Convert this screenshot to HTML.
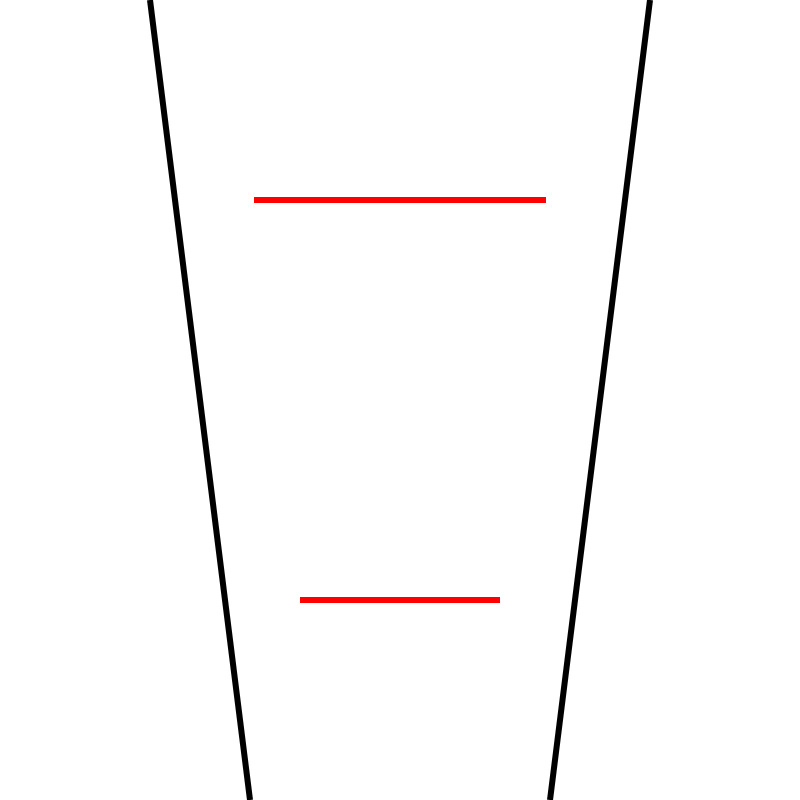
<!DOCTYPE html>
<html>
<head>
<meta charset="utf-8">
<style>
html,body{margin:0;padding:0;background:#fff;}
svg{display:block;}
</style>
</head>
<body>
<svg width="800" height="800" viewBox="0 0 800 800">
<rect x="0" y="0" width="800" height="800" fill="#fff"/>
<line x1="150" y1="0" x2="250" y2="800" stroke="#000" stroke-width="6"/>
<line x1="650" y1="0" x2="550" y2="800" stroke="#000" stroke-width="6"/>
<line x1="254" y1="200" x2="546" y2="200" stroke="#ff0000" stroke-width="6"/>
<line x1="300" y1="600" x2="500" y2="600" stroke="#ff0000" stroke-width="6"/>
</svg>
</body>
</html>
